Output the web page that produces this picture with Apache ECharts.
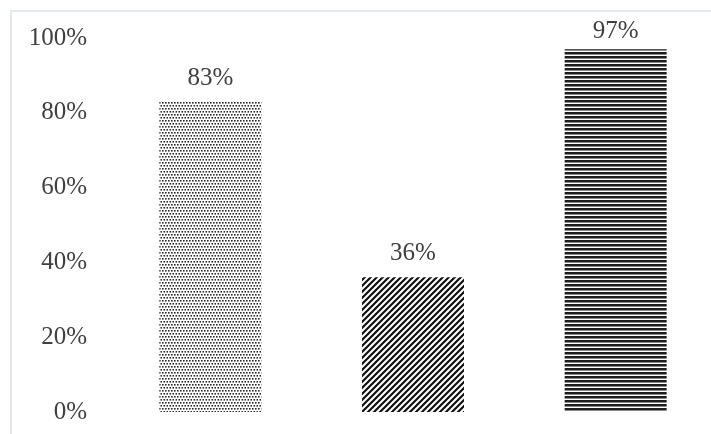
<!DOCTYPE html>
<html>
<head>
<meta charset="utf-8">
<script src="https://cdn.jsdelivr.net/npm/echarts@6/dist/echarts.min.js"></script>
<style>
  html, body { margin: 0; padding: 0; background: #fff; overflow: hidden; }
  /* a bit wider than the window: the last band runs past the right edge */
  #chart { width: 730px; height: 434px; }
</style>
</head>
<body>
<div id="chart"></div>
<script>
const categories = ['A', 'B', 'C']
const values = [83, 36, 97]
const yTicks = [0, 20, 40, 60, 80, 100]

// pattern tiles drawn on small canvases
function makeTile(w, h, draw) {
  const c = document.createElement('canvas')
  c.width = w
  c.height = h
  const ctx = c.getContext('2d')
  ctx.fillStyle = '#fff'
  ctx.fillRect(0, 0, w, h)
  draw(ctx)
  return c
}

const dots = makeTile(6, 6, ctx => {
  ctx.fillStyle = '#2a2a2a'
  ctx.fillRect(0, 0, 1.6, 1.6)
  ctx.fillRect(3, 0, 1.6, 1.6)
  ctx.fillRect(1.5, 3, 1.6, 1.6)
  ctx.fillRect(4.5, 3, 1.6, 1.6)
})

const diag = makeTile(6, 6, ctx => {
  ctx.strokeStyle = '#111'
  ctx.lineWidth = 2.2
  ctx.beginPath()
  ctx.moveTo(-1, 7); ctx.lineTo(7, -1)
  ctx.moveTo(-4, 4); ctx.lineTo(4, -4)
  ctx.moveTo(2, 10); ctx.lineTo(10, 2)
  ctx.stroke()
})

const hlines = makeTile(4, 4, ctx => {
  ctx.fillStyle = '#1e1e1e'
  ctx.fillRect(0, 0, 4, 2)
  ctx.fillStyle = '#8a8a8a'
  ctx.fillRect(0, 2, 4, 1)
})

const patterns = [dots, diag, hlines]

const chart = echarts.init(document.getElementById('chart'))

const font = {
  color: '#404040',
  fontSize: 25,
  fontFamily: 'Liberation Serif',
}

chart.setOption({
  animation: false,
  graphic: [
    {
      type: 'rect',
      shape: { x: 11, y: 11, width: 800, height: 600 },
      style: { fill: 'none', stroke: '#e3e7ee', lineWidth: 2 },
      silent: true,
    },
  ],
  grid: {
    left: 109,
    top: 38,
    width: 608,
    height: 374,
  },
  xAxis: {
    type: 'category',
    data: categories,
    axisLine: { show: false },
    axisTick: { show: false },
    axisLabel: { show: false },
  },
  yAxis: {
    type: 'value',
    min: yTicks[0],
    max: yTicks[yTicks.length - 1],
    interval: 20,
    axisLine: { show: false },
    axisTick: { show: false },
    splitLine: { show: false },
    axisLabel: {
      ...font,
      margin: 22,
      formatter: v => v + '%',
    },
  },
  series: [
    {
      type: 'bar',
      barWidth: 102,
      data: values.map((v, i) => ({
        value: v,
        itemStyle: { color: { image: patterns[i], repeat: 'repeat' } },
        // the last label sits lower, squeezed under the top border
        label: i === 2 ? { distance: 5 } : undefined,
      })),
      label: {
        show: true,
        position: 'top',
        distance: 11,
        ...font,
        formatter: p => p.value + '%',
      },
    },
  ],
})
</script>
</body>
</html>
